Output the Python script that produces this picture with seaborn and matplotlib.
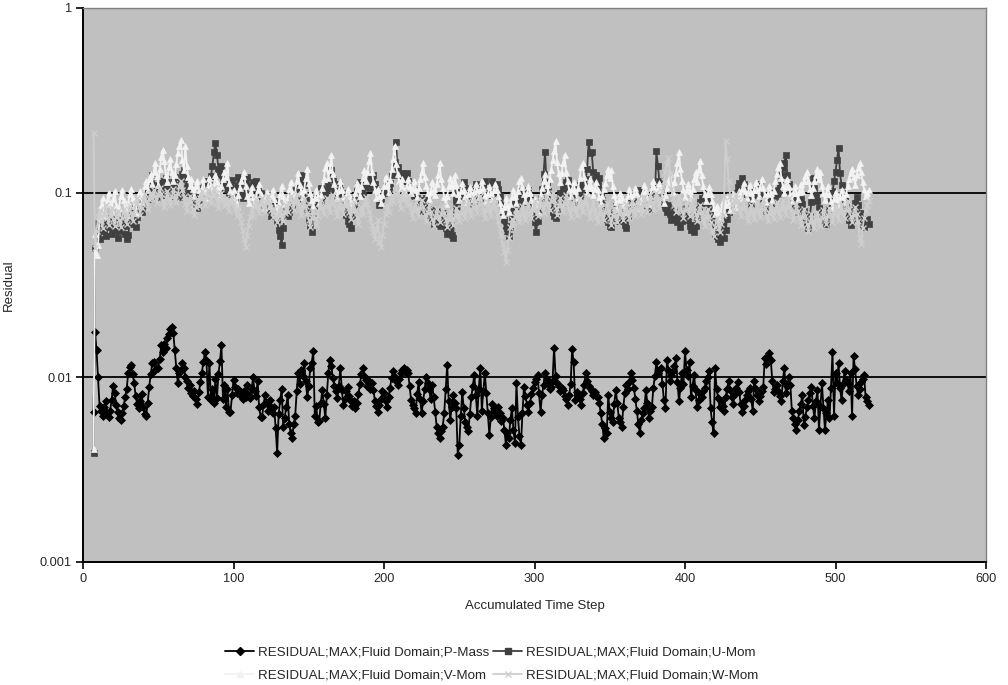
import numpy as np
import pandas as pd
import matplotlib
matplotlib.use("Agg")
import matplotlib.pyplot as plt
import matplotlib.ticker as mticker
import seaborn as sns

# Max residuals per accumulated time step (first step = 7)
first_step = 7

# P-Mass, in units of 1e-3
p_mass_e3 = [
    6.5, 17.7, 14.0, 10.0, 7.0, 6.6, 6.2, 6.9, 7.4, 6.4,
    6.1, 6.6, 7.5, 9.0, 8.2, 7.1, 6.5, 6.0, 5.9, 6.4,
    7.0, 7.8, 8.6, 10.5, 11.4, 11.6, 10.4, 9.3, 7.9, 7.2,
    6.8, 7.4, 8.1, 6.9, 6.3, 6.2, 7.3, 8.9, 10.4, 11.9,
    12.1, 10.9, 11.3, 11.3, 12.6, 14.9, 13.7, 15.2, 14.4, 16.3,
    17.1, 18.2, 18.7, 17.4, 14.0, 11.2, 9.3, 10.5, 10.9, 11.9,
    11.3, 10.0, 9.6, 8.8, 9.1, 8.2, 7.9, 8.4, 7.6, 7.2,
    8.3, 9.4, 10.6, 12.1, 13.7, 12.4, 7.8, 11.9, 7.5, 8.7,
    7.3, 9.8, 7.7, 10.4, 12.2, 14.9, 7.6, 9.1, 6.9, 8.6,
    6.5, 6.5, 8.0, 9.7, 8.9, 8.2, 8.6, 8.0, 8.3, 7.6,
    8.4, 7.8, 9.1, 8.0, 7.7, 8.6, 10.0, 8.4, 7.9, 9.6,
    6.9, 6.1, 6.1, 7.2, 8.0, 7.3, 6.6, 7.5, 6.9, 6.4,
    6.9, 5.3, 3.9, 6.3, 7.5, 8.7, 5.4, 6.0, 6.9, 8.0,
    5.6, 5.0, 4.7, 5.6, 6.2, 8.4, 10.5, 9.2, 11.0, 10.2,
    11.9, 9.5, 7.8, 9.0, 11.3, 12.0, 13.9, 6.2, 7.0, 5.7,
    5.8, 7.3, 8.5, 7.2, 6.0, 8.0, 10.6, 12.4, 11.5, 9.9,
    9.0, 8.4, 7.7, 9.0, 11.3, 8.5, 7.1, 7.6, 8.4, 8.9,
    7.9, 7.4, 7.0, 7.4, 6.8, 7.3, 8.1, 9.2, 10.4, 11.3,
    10.2, 9.7, 9.0, 9.6, 8.7, 9.3, 8.5, 7.4, 7.0, 6.5,
    7.1, 7.6, 8.4, 8.2, 7.4, 6.9, 7.8, 8.8, 9.9, 10.8,
    10.1, 9.5, 9.1, 9.8, 10.5, 10.9, 11.3, 10.7, 10.9, 10.6,
    9.0, 7.5, 7.1, 6.8, 6.4, 8.1, 9.4, 7.6, 6.4, 7.4,
    8.6, 10.0, 9.3, 8.6, 7.6, 9.1, 7.8, 6.5, 5.4, 5.0,
    4.7, 5.1, 5.4, 6.4, 8.6, 11.6, 7.4, 5.9, 6.9, 8.0,
    7.3, 6.8, 3.8, 4.3, 6.2, 8.3, 6.8, 5.7, 5.4, 5.1,
    6.3, 7.8, 9.0, 10.3, 8.0, 6.2, 8.7, 11.3, 6.6, 8.4,
    10.6, 8.2, 6.4, 4.9, 6.1, 7.2, 6.8, 6.5, 6.2, 6.9,
    6.4, 5.8, 6.0, 5.2, 4.3, 5.0, 4.7, 5.9, 6.8, 5.2,
    4.4, 9.3, 6.1, 4.8, 4.3, 6.4, 8.9, 7.9, 7.1, 6.5,
    7.3, 8.1, 8.8, 9.4, 9.8, 10.3, 8.2, 6.5, 8.0, 9.1,
    10.6, 9.8, 9.3, 8.6, 8.9, 9.6, 14.5, 10.2, 9.3, 9.0,
    8.4, 8.8, 8.5, 7.9, 7.6, 7.1, 8.0, 9.2, 14.3, 12.1,
    7.5, 8.3, 8.1, 7.6, 7.1, 8.2, 9.1, 10.6, 9.5, 9.0,
    8.8, 8.4, 8.0, 8.3, 7.9, 7.8, 7.3, 6.4, 5.6, 4.7,
    5.3, 5.0, 8.0, 6.5, 6.0, 5.7, 7.2, 8.5, 7.3, 6.0,
    5.7, 5.4, 6.9, 8.2, 9.1, 8.6, 9.4, 10.6, 9.7, 8.8,
    7.6, 6.6, 5.6, 5.0, 5.9, 6.4, 6.8, 8.5, 7.3, 6.0,
    6.6, 6.9, 8.8, 10.2, 12.1, 10.6, 11.0, 11.3, 9.2, 7.5,
    6.8, 12.4, 10.9, 9.6, 10.3, 10.8, 11.5, 12.7, 9.4, 7.4,
    8.8, 10.6, 9.2, 13.9, 11.0, 10.2, 12.1, 7.8, 9.0, 10.3,
    8.5, 6.9, 7.5, 8.1, 7.8, 8.4, 8.8, 9.5, 10.1, 10.8,
    6.8, 5.7, 5.0, 11.3, 8.6, 7.7, 6.9, 7.4, 7.0, 6.6,
    7.8, 8.7, 9.6, 8.5, 7.8, 7.2, 8.1, 8.8, 9.4, 8.3,
    7.2, 6.5, 7.0, 7.5, 8.0, 8.4, 8.8, 7.6, 6.6, 9.6,
    8.7, 8.0, 7.4, 7.9, 8.4, 8.9, 12.7, 11.8, 12.9, 13.5,
    12.4, 9.6, 8.3, 8.7, 9.1, 8.4, 7.9, 7.4, 9.6, 11.3,
    8.2, 9.0, 10.0, 9.1, 6.6, 6.0, 5.6, 5.2, 5.9, 6.6,
    7.2, 8.0, 5.5, 6.1, 6.9, 7.5, 8.2, 8.9, 7.0, 6.0,
    7.4, 8.5, 5.2, 7.0, 9.3, 6.8, 5.2, 6.4, 7.5, 6.0,
    8.8, 13.7, 6.2, 10.6, 9.3, 11.9, 8.8, 7.5, 9.2, 10.8,
    9.7, 9.3, 8.4, 10.6, 6.2, 13.0, 11.1, 9.0, 8.0, 8.7,
    9.4, 9.8, 10.3, 7.8, 7.4, 7.1,
]

# U-Mom, in units of 1e-2
u_mom_e2 = [
    0.39, 5.0, 6.9, 6.1, 5.6, 6.4, 7.0, 6.2, 5.8, 6.7,
    7.3, 6.5, 6.0, 6.8, 7.4, 6.3, 5.7, 6.2, 6.9, 7.5,
    6.6, 6.0, 5.6, 5.9, 6.8, 7.6, 8.3, 7.1, 6.5, 7.4,
    8.2, 8.8, 7.9, 8.6, 9.4, 10.1, 9.2, 10.6, 11.3, 12.5,
    11.0, 10.2, 9.5, 10.8, 11.6, 10.4, 9.7, 11.2, 12.0, 10.9,
    10.1, 9.6, 10.5, 11.4, 12.2, 11.0, 10.3, 9.5, 11.7, 12.6,
    13.3, 12.0, 10.8, 9.9, 10.6, 9.4, 8.9, 9.7, 8.5, 8.3,
    9.1, 10.0, 9.3, 10.7, 11.5, 10.4, 9.6, 11.1, 12.3, 14.0,
    16.7, 18.5, 16.0, 13.5, 12.4, 14.0, 11.6, 10.5, 11.9, 10.8,
    9.8, 10.9, 11.7, 10.3, 9.5, 10.8, 12.1, 11.2, 10.0, 9.3,
    10.2, 11.4, 12.2, 10.9, 9.8, 10.6, 11.4, 10.7, 11.5, 10.4,
    9.6, 10.0, 9.2, 8.6, 9.4, 9.7, 8.8, 8.1, 7.5, 8.3,
    9.0, 7.8, 7.0, 6.3, 5.8, 5.2, 6.4, 7.6, 8.4, 7.5,
    7.9, 8.8, 8.5, 9.6, 10.4, 9.2, 10.8, 11.7, 10.5, 12.5,
    11.0, 9.4, 8.2, 7.1, 6.6, 6.1, 7.3, 8.5, 9.3, 8.7,
    9.8, 10.6, 9.5, 8.8, 9.9, 10.4, 10.9, 12.0, 13.3, 11.8,
    10.5, 9.6, 10.3, 11.1, 10.4, 10.0, 9.2, 8.3, 7.6, 7.0,
    6.8, 6.4, 7.5, 8.6, 9.3, 10.2, 10.9, 11.4, 10.6, 9.8,
    10.7, 11.8, 12.3, 11.5, 10.6, 11.9, 12.5, 11.2, 10.3, 9.4,
    8.6, 9.2, 9.7, 9.9, 10.8, 11.6, 10.5, 11.3, 12.4, 13.0,
    14.6, 18.8, 13.7, 12.5, 11.9, 12.8, 11.6, 12.2, 12.8, 11.5,
    10.7, 11.2, 10.1, 9.6, 10.3, 9.4, 8.8, 9.1, 8.5, 8.0,
    8.6, 9.3, 8.2, 7.6, 8.1, 7.3, 6.8, 7.5, 8.0, 7.2,
    6.6, 7.1, 7.8, 6.9, 6.4, 6.0, 6.7, 6.2, 5.9, 5.7,
    10.0, 9.1, 8.4, 9.6, 10.3, 9.8, 11.4, 10.6, 9.7, 10.2,
    9.4, 8.7, 9.5, 10.5, 11.2, 10.3, 9.6, 8.9, 9.8, 10.7,
    11.5, 10.4, 9.7, 10.1, 10.9, 11.6, 10.8, 10.0, 11.2, 10.5,
    9.6, 8.8, 7.9, 7.1, 6.6, 6.2, 5.8, 6.5, 7.4, 8.3,
    9.0, 8.5, 9.3, 8.7, 9.6, 10.2, 9.5, 8.9, 9.8, 10.4,
    9.3, 8.4, 7.6, 6.9, 6.1, 7.0, 8.2, 9.4, 10.5, 12.6,
    16.6, 11.4, 10.2, 9.3, 8.6, 7.9, 7.5, 7.3, 8.2, 9.1,
    10.0, 9.4, 10.5, 11.0, 11.4, 11.7, 10.6, 9.8, 10.4, 9.5,
    8.9, 9.7, 10.5, 11.3, 10.4, 9.6, 10.8, 11.9, 13.5, 18.8,
    16.4, 16.6, 13.0, 11.8, 12.4, 11.0, 12.0, 10.0, 9.1, 8.3,
    7.8, 7.2, 6.9, 6.6, 6.5, 7.3, 7.9, 8.5, 7.6, 7.0,
    7.4, 8.1, 7.0, 6.7, 6.4, 7.5, 8.6, 9.3, 9.8, 10.0,
    9.2, 8.8, 9.6, 10.4, 9.7, 9.1, 10.0, 9.4, 8.6, 8.2,
    8.9, 9.5, 10.3, 9.2, 16.8, 14.0, 11.5, 10.1, 9.3, 8.7,
    8.3, 7.9, 8.6, 7.7, 7.1, 7.6, 8.2, 7.4, 6.9, 7.3,
    6.5, 7.0, 7.6, 8.3, 7.7, 7.1, 6.6, 6.3, 6.7, 6.1,
    6.6, 7.4, 8.2, 8.9, 9.4, 8.8, 9.6, 10.0, 9.2, 8.4,
    7.8, 7.2, 6.6, 6.0, 5.8, 5.6, 5.4, 6.2, 6.8, 5.7,
    6.3, 7.2, 7.9, 8.5, 9.1, 8.6, 9.4, 10.0, 10.7, 11.3,
    10.5, 12.0, 11.1, 10.2, 9.5, 10.1, 9.3, 8.7, 9.6, 10.4,
    9.8, 10.5, 11.2, 10.9, 10.0, 9.2, 8.5, 8.0, 8.7, 9.4,
    10.1, 9.5, 8.8, 9.6, 10.3, 9.8, 11.0, 12.4, 13.6, 14.5,
    16.0, 12.5, 11.2, 10.0, 9.3, 8.6, 9.1, 8.4, 7.9, 8.5,
    9.2, 8.7, 8.0, 7.4, 6.9, 6.4, 7.5, 8.9, 12.0, 10.6,
    9.7, 9.0, 8.3, 7.8, 7.3, 7.0, 7.6, 6.8, 7.4, 8.2,
    9.0, 10.2, 11.5, 13.0, 15.0, 17.5, 12.8, 11.0, 9.9, 9.2,
    8.4, 7.6, 7.1, 6.7, 7.3, 8.0, 8.8, 9.5, 8.6, 7.8,
    7.2, 6.8, 6.5, 6.9, 7.2, 6.8,
]

# V-Mom, in units of 1e-2
v_mom_e2 = [
    0.41, 6.0, 4.6, 5.2, 7.4, 8.5, 9.3, 8.0, 7.5, 9.0,
    10.0, 8.7, 7.9, 9.2, 10.2, 8.6, 7.8, 8.3, 9.6, 10.4,
    9.1, 8.2, 7.6, 8.8, 9.8, 10.5, 9.3, 8.5, 7.8, 8.9,
    9.7, 10.2, 8.9, 9.6, 10.8, 11.5, 10.3, 11.8, 12.6, 11.2,
    13.0, 14.5, 12.3, 11.0, 13.4, 15.6, 17.0, 14.8, 12.5, 11.4,
    13.8, 15.2, 13.0, 11.6, 12.4, 14.3, 16.5, 18.0, 19.3, 15.0,
    13.2, 17.8, 14.0, 12.1, 10.8, 11.9, 10.5, 9.6, 10.8, 11.5,
    10.4, 9.5, 10.6, 11.8, 10.2, 9.4, 10.9, 12.0, 11.0, 9.8,
    10.7, 12.5, 11.4, 10.3, 9.6, 10.8, 11.9, 13.0, 12.2, 14.5,
    11.3, 10.2, 9.3, 10.4, 9.1, 8.5, 9.7, 10.6, 11.5, 12.3,
    13.0, 10.8, 9.6, 8.8, 9.9, 10.7, 9.5, 8.6, 9.4, 10.3,
    11.2, 9.8, 9.0, 8.3, 9.2, 10.1, 9.3, 8.5, 9.6, 10.4,
    9.2, 8.4, 7.9, 8.7, 9.8, 10.9, 9.6, 8.7, 8.1, 9.3,
    10.5, 11.4, 10.1, 9.2, 10.0, 11.6, 12.8, 11.0, 10.2, 9.5,
    10.4, 12.0, 13.5, 11.3, 10.0, 9.1, 8.5, 9.4, 10.3, 9.6,
    8.8, 9.7, 10.6, 11.8, 13.6, 14.4, 12.0, 13.2, 16.0, 12.6,
    11.1, 10.2, 9.4, 10.3, 11.5, 10.4, 9.5, 8.7, 9.6, 10.5,
    9.7, 8.9, 8.2, 9.1, 10.0, 11.3, 10.5, 9.6, 10.8, 12.0,
    13.3, 11.6, 12.9, 14.8, 16.5, 13.0, 11.4, 10.3, 9.4, 10.5,
    9.6, 8.8, 9.7, 10.9, 12.2, 11.0, 10.1, 11.7, 13.4, 15.2,
    18.0, 14.3, 12.6, 11.5, 10.6, 11.8, 10.4, 9.6, 10.7, 11.9,
    10.8, 9.9, 10.5, 11.6, 10.3, 9.5, 10.6, 11.8, 13.0, 14.5,
    12.2, 10.9, 10.0, 9.2, 10.1, 11.4, 10.5, 9.7, 11.2, 12.4,
    14.5, 11.8, 10.6, 9.5, 8.7, 9.6, 10.8, 12.0, 11.1, 10.0,
    12.5, 11.0, 9.8, 9.1, 10.2, 11.3, 10.4, 9.6, 8.9, 9.8,
    10.7, 9.9, 9.2, 10.1, 11.2, 10.3, 9.5, 10.4, 11.5, 10.6,
    9.7, 8.9, 9.8, 10.8, 10.0, 9.2, 10.3, 11.2, 10.4, 9.6,
    8.8, 8.1, 7.6, 8.4, 9.3, 8.6, 7.9, 8.7, 9.5, 10.4,
    9.6, 8.8, 10.2, 11.5, 12.0, 10.7, 9.8, 9.0, 9.9, 10.8,
    9.9, 9.1, 8.4, 9.2, 8.5, 7.9, 8.8, 9.7, 10.6, 11.5,
    12.6, 11.0, 10.1, 11.8, 13.3, 15.0, 16.9, 19.0, 14.6, 12.8,
    11.4, 12.7, 14.5, 16.0, 13.0, 11.5, 10.3, 9.6, 10.5, 11.4,
    10.2, 9.4, 10.6, 12.0, 13.8, 14.5, 12.2, 10.9, 9.9, 10.8,
    11.9, 10.6, 9.7, 10.5, 11.4, 10.3, 9.5, 8.8, 9.6, 10.5,
    11.3, 12.4, 13.5, 12.0, 13.2, 10.8, 9.7, 8.9, 8.2, 9.1,
    10.0, 9.3, 8.6, 7.9, 8.8, 9.6, 10.5, 9.7, 8.9, 9.8,
    10.6, 9.8, 9.0, 8.3, 9.2, 10.1, 11.0, 10.2, 9.4, 8.7,
    9.6, 10.7, 11.6, 10.5, 9.6, 10.4, 11.3, 10.3, 9.5, 8.8,
    9.7, 10.6, 11.5, 12.6, 11.3, 10.1, 11.4, 12.8, 14.5, 16.6,
    13.4, 11.6, 10.4, 9.5, 10.3, 11.2, 10.2, 9.3, 10.5, 11.8,
    12.9, 11.4, 13.3, 14.8, 12.5, 10.9, 9.8, 9.0, 9.8, 10.7,
    9.8, 9.0, 8.3, 7.7, 8.5, 7.9, 7.3, 8.1, 8.9, 7.8,
    8.6, 9.5, 8.8, 8.1, 9.0, 9.9, 9.1, 8.4, 9.3, 10.2,
    9.4, 10.5, 11.3, 10.2, 9.3, 10.1, 11.0, 10.0, 9.2, 10.3,
    11.4, 10.4, 9.6, 10.7, 11.8, 10.6, 9.7, 8.9, 9.8, 10.8,
    9.9, 9.1, 10.2, 11.5, 12.6, 13.8, 14.5, 12.0, 10.8, 9.9,
    10.8, 11.9, 10.7, 9.8, 9.0, 9.9, 10.9, 10.0, 9.2, 10.1,
    11.1, 10.2, 11.5, 12.3, 13.0, 11.6, 10.5, 9.7, 10.6, 11.6,
    12.5, 13.4, 11.9, 13.0, 10.9, 9.9, 9.1, 9.9, 10.8, 9.8,
    9.0, 8.3, 9.2, 10.1, 9.3, 8.6, 9.5, 10.4, 9.6, 8.9,
    9.8, 10.9, 11.9, 12.8, 13.5, 12.2, 11.0, 12.4, 13.6, 14.5,
    13.0, 11.4, 10.4, 9.6, 9.9, 10.3,
]

# W-Mom, in units of 1e-2
w_mom_e2 = [
    21.0, 5.0, 6.2, 7.4, 8.1, 7.0, 6.4, 7.7, 8.6, 7.3,
    6.7, 7.5, 8.3, 7.2, 6.6, 7.4, 8.0, 7.1, 6.5, 7.3,
    8.2, 7.5, 6.8, 7.6, 8.5, 7.8, 7.0, 7.7, 8.7, 9.3,
    8.4, 7.6, 8.3, 9.1, 9.8, 9.0, 8.2, 9.2, 10.0, 9.3,
    10.4, 9.6, 8.8, 9.7, 10.6, 9.8, 9.0, 8.4, 9.3, 10.2,
    9.4, 8.6, 9.5, 10.5, 9.7, 8.9, 9.8, 10.8, 11.6, 10.3,
    9.5, 8.7, 8.0, 8.8, 9.6, 8.9, 8.2, 7.6, 8.4, 9.2,
    8.5, 9.4, 10.2, 9.3, 8.6, 9.5, 10.4, 9.6, 8.8, 9.7,
    10.6, 9.8, 9.0, 8.3, 9.1, 10.0, 9.2, 8.5, 9.4, 8.7,
    8.0, 8.8, 9.6, 8.9, 8.2, 7.5, 8.3, 7.6, 6.9, 6.3,
    5.6, 5.1, 5.8, 6.6, 7.4, 8.2, 7.5, 8.4, 9.2, 8.5,
    7.8, 8.6, 9.4, 8.6, 7.9, 8.8, 9.6, 8.8, 8.1, 7.4,
    8.2, 7.5, 6.9, 7.6, 8.4, 7.7, 7.0, 7.8, 8.6, 7.9,
    8.7, 9.6, 8.9, 8.1, 8.9, 9.8, 9.0, 8.3, 7.6, 8.4,
    9.2, 8.5, 7.8, 7.1, 6.5, 7.3, 8.0, 7.3, 6.7, 7.5,
    8.3, 9.1, 8.4, 7.7, 8.5, 9.3, 8.6, 7.9, 8.8, 9.7,
    8.9, 8.2, 7.5, 8.3, 9.2, 8.4, 7.7, 8.5, 9.4, 8.6,
    7.9, 7.2, 8.0, 8.9, 8.1, 7.4, 6.8, 7.6, 8.4, 7.7,
    8.6, 9.5, 8.7, 8.0, 7.3, 6.7, 6.1, 5.6, 6.3, 7.1,
    5.4, 5.1, 5.9, 6.8, 7.7, 8.6, 7.9, 8.8, 9.7, 8.9,
    9.8, 10.8, 9.9, 9.1, 8.3, 9.2, 10.1, 9.3, 8.6, 9.5,
    8.7, 8.0, 7.3, 8.1, 8.9, 8.2, 7.5, 8.3, 9.1, 8.4,
    7.7, 7.0, 7.8, 8.6, 7.9, 7.2, 6.6, 7.4, 8.2, 7.5,
    6.9, 7.7, 8.5, 7.8, 7.1, 6.5, 7.2, 8.0, 7.3, 6.7,
    7.5, 8.3, 7.6, 7.0, 7.8, 8.7, 8.0, 7.3, 8.1, 9.0,
    8.2, 7.5, 8.4, 9.3, 8.5, 7.8, 8.7, 9.6, 8.8, 8.0,
    7.3, 8.1, 8.9, 8.2, 7.5, 8.3, 9.2, 8.4, 7.7, 7.0,
    6.4, 5.9, 5.3, 4.8, 4.2, 4.9, 5.7, 6.5, 7.2, 6.6,
    7.4, 8.2, 7.5, 6.9, 7.7, 8.5, 7.8, 7.1, 7.9, 8.7,
    8.0, 7.3, 8.1, 9.0, 8.2, 7.5, 8.4, 9.3, 8.5, 7.8,
    8.7, 9.6, 8.8, 8.1, 9.0, 9.9, 9.1, 8.3, 7.6, 8.5,
    9.4, 8.6, 7.9, 8.8, 9.7, 8.9, 8.1, 7.4, 8.2, 9.1,
    8.3, 7.6, 8.5, 9.4, 8.6, 7.9, 8.7, 9.6, 8.8, 8.0,
    7.3, 8.1, 9.0, 8.2, 7.5, 6.9, 7.7, 8.5, 7.8, 7.1,
    7.9, 8.8, 8.0, 7.3, 6.7, 7.5, 8.3, 7.6, 6.9, 7.7,
    8.5, 7.8, 7.1, 7.9, 8.7, 8.0, 7.3, 8.1, 9.0, 8.2,
    7.5, 8.3, 9.2, 8.4, 7.7, 8.6, 9.5, 8.7, 7.9, 8.8,
    9.7, 8.9, 8.1, 9.0, 9.9, 9.1, 8.3, 9.2, 10.2, 11.5,
    13.0, 14.2, 15.5, 12.6, 10.5, 9.4, 8.6, 7.9, 8.7, 9.6,
    8.8, 8.0, 7.3, 8.1, 8.9, 8.2, 7.5, 8.3, 9.1, 8.4,
    7.7, 7.0, 7.8, 8.6, 7.9, 7.2, 6.6, 7.4, 8.2, 7.5,
    6.9, 6.3, 5.8, 6.5, 7.3, 6.7, 6.1, 6.8, 7.6, 9.5,
    19.0, 15.2, 11.6, 9.6, 8.8, 8.0, 8.9, 9.8, 9.0, 8.2,
    7.5, 8.3, 9.2, 8.4, 7.7, 7.0, 7.8, 8.6, 7.9, 7.2,
    8.0, 8.9, 8.1, 7.4, 8.2, 9.1, 8.3, 7.6, 7.0, 7.8,
    8.6, 7.9, 7.2, 8.0, 8.9, 8.1, 7.4, 8.2, 9.1, 8.3,
    7.6, 8.4, 9.3, 8.5, 7.8, 7.1, 7.9, 8.7, 8.0, 7.3,
    6.7, 7.4, 8.2, 7.5, 6.8, 6.2, 6.9, 7.7, 7.0, 6.4,
    7.1, 7.9, 7.2, 6.6, 7.3, 8.1, 7.4, 6.8, 7.5, 8.3,
    7.6, 6.9, 7.7, 8.5, 7.8, 7.1, 7.9, 8.7, 8.0, 7.3,
    8.1, 9.0, 8.2, 7.5, 6.9, 7.6, 8.4, 7.7, 7.0, 5.7,
    5.3, 6.4, 7.3, 8.0, 8.6, 9.0,
]

series_names = [
    "RESIDUAL;MAX;Fluid Domain;P-Mass",
    "RESIDUAL;MAX;Fluid Domain;U-Mom",
    "RESIDUAL;MAX;Fluid Domain;V-Mom",
    "RESIDUAL;MAX;Fluid Domain;W-Mom",
]
series_values = [
    np.array(p_mass_e3) * 1e-3,
    np.array(u_mom_e2) * 1e-2,
    np.array(v_mom_e2) * 1e-2,
    np.array(w_mom_e2) * 1e-2,
]
series_colors = ["#000000", "#404040", "#f2f2f2", "#cecece"]
series_markers = ["D", "s", "^", "x"]
series_msize = [3.6, 3.8, 4.2, 4.4]

x_ticks = [0, 100, 200, 300, 400, 500, 600]
y_ticks = [0.001, 0.01, 0.1, 1]
y_tick_labels = ["0.001", "0.01", "0.1", "1"]

frames = []
for name, vals in zip(series_names, series_values):
    frames.append(pd.DataFrame({
        "step": np.arange(first_step, first_step + len(vals)),
        "residual": vals,
        "series": name,
    }))
df = pd.concat(frames, ignore_index=True)

sns.set_style("white")
plt.rcParams["font.family"] = ["Liberation Sans", "DejaVu Sans"]

fig = plt.figure(figsize=(10.08, 6.85), dpi=100)
ax = fig.add_axes([83 / 1008, 1 - 562 / 685, (986 - 83) / 1008, (562 - 8) / 685])
ax.set_facecolor("#c0c0c0")

handles = []
for name, color, mk, ms in zip(series_names, series_colors, series_markers, series_msize):
    sub = df[df["series"] == name]
    sns.lineplot(data=sub, x="step", y="residual", ax=ax, color=color,
                 linewidth=1.3, marker=mk, markersize=ms,
                 markeredgecolor=color, markerfacecolor=color,
                 markeredgewidth=1.0 if mk == "x" else 0.5,
                 estimator=None, sort=False, legend=False, zorder=3)
    handles.append(plt.Line2D([], [], color=color, lw=1.3, marker=mk,
                              markersize=ms, markeredgecolor=color,
                              markerfacecolor=color))

ax.set_yscale("log")
ax.set_ylim(0.001, 1)
ax.set_xlim(0, 600)
ax.set_xticks(x_ticks)
ax.set_xticklabels([str(t) for t in x_ticks])
ax.set_yticks(y_ticks)
ax.set_yticklabels(y_tick_labels)
ax.yaxis.set_minor_locator(mticker.NullLocator())
ax.tick_params(axis="both", which="major", direction="out", length=5,
               width=1.2, color="black", labelsize=9.2, pad=3,
               left=True, bottom=True)
ax.grid(False)
for yv in [0.01, 0.1]:
    ax.axhline(yv, color="black", lw=1.3, zorder=2)

for side in ["left", "bottom"]:
    ax.spines[side].set_color("black")
    ax.spines[side].set_linewidth(1.4)
for side in ["top", "right"]:
    ax.spines[side].set_color("#808080")
    ax.spines[side].set_linewidth(1.0)

ax.set_xlabel("Accumulated Time Step", fontsize=9.5, labelpad=11)
ax.set_ylabel("Residual", fontsize=9.5, labelpad=18)

# legend: two rows, filled row by row
order = [0, 2, 1, 3]
fig.legend([handles[i] for i in order], [series_names[i] for i in order],
           loc="upper center", bbox_to_anchor=(0.488, 1 - 634 / 685),
           ncol=2, frameon=False, fontsize=9.6, handlelength=2.2,
           handletextpad=0.3, columnspacing=0.25, labelspacing=0.8)

fig.savefig("out.png", dpi=100, facecolor="white")
